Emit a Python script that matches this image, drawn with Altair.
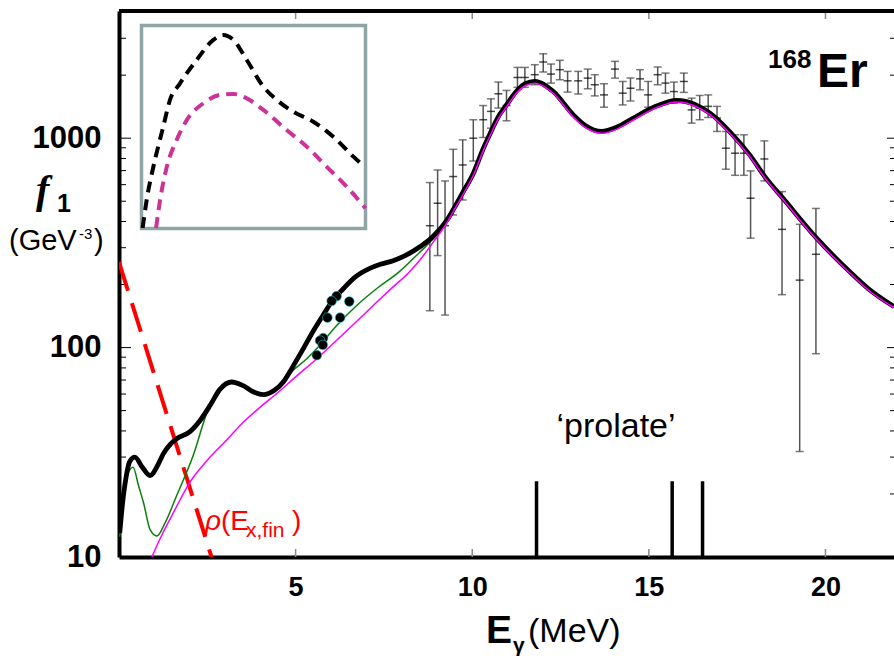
import altair as alt
import pandas as pd

# ---------------- data ----------------
# total strength (thick black)
black_E = [0.02,0.1,0.2,0.3,0.45,0.65,0.88,1.1,1.25,1.45,1.63,2.01,2.3,2.58,2.85,3.19,3.5,3.8,4.08,4.4,4.65,4.9,5.22,5.5,5.78,6.05,6.35,6.7,7.1,7.4,7.76,8.1,
           8.52,8.89,9.3,9.46,9.73,10.03,10.31,10.53,10.74,10.97,11.28,11.5,11.77,12.29,12.86,13.2,13.66,14.1,14.56,15.2,15.79,16.3,16.73,17.3,17.86,18.3,18.8,19.75,20.69,21.2,21.94]
black_f = [13,18,24,28.5,30,27,24.5,27.5,31,34.5,36.7,39.7,45,53,63,68.5,66,61.5,59.6,62.5,68.5,80,99,120,143,168,191,218,239,250,260,275,
           303,339,410,455,550,679,890,1074,1268,1442,1698,1820,1870,1672,1293,1150,1077,1130,1248,1420,1514,1450,1318,1070,830,650,516,333,230,192,157]

# thin green curve
green_E = [0.02,0.12,0.25,0.4,0.55,0.7,0.88,1.07,1.3,1.63,2.1,2.53,2.85,3.19,3.5,3.8,4.08,4.4,4.65,4.9,5.3,5.6,6.17,6.73,7.29,7.93,8.5,8.89,9.3,9.46]
green_f = [12.5,19,25,26.8,22,18,13.5,12.6,14.5,19.6,30.5,51,63,68.5,66,61.5,59.6,62.5,68.5,77,88,99,128,159,191,230,284,330,405,452]

# thin magenta curve
mag_E = [0.93,1.2,1.5,2.01,2.5,3.0,3.52,4.0,4.5,5.0,5.6,6.2,6.8,7.3,7.76,8.2,8.52,8.89,9.3,9.46,9.73,10.03,10.31,10.53,10.74,10.97,11.28,11.5,11.77,
         12.29,12.86,13.2,13.66,14.1,14.56,15.2,15.79,16.3,16.73,17.3,17.86,18.3,18.8,19.75,20.69,21.2,21.94]
mag_f = [10,12.6,15.8,22.8,29,35.5,44,52,61,72.5,88.5,110,137,165,195,228,262,318,398,445,535,665,870,1050,1240,1410,1660,1780,1830,
         1640,1265,1125,1055,1105,1222,1395,1490,1425,1295,1050,815,640,508,328,227,189,155]

# red dashed level-density line
red_E = [0.0, 2.62]
red_f = [256, 10]

# experimental points with error bars
exp_E  = [8.80,9.02,9.23,9.46,9.73,10.03,10.31,10.53,10.74,10.97,11.28,11.49,11.77,12.01,12.23,12.48,12.70,13.00,13.27,13.47,13.73,
          14.04,14.26,14.48,14.75,14.98,15.25,15.47,15.71,15.99,16.21,16.44,16.68,16.93,17.18,17.44,17.69,17.88,18.27,18.77,19.27,19.73]
exp_f  = [382,489,382,656,745,1000,1225,1343,1630,1432,1950,1950,2010,2312,2024,2124,1879,1879,1936,1800,1610,
          2138,1641,1734,1921,1610,2010,1833,1670,1866,1365,1393,1419,1248,896,848,848,517,796,367,210,279]
exp_lo = [150,275,143,430,507,778,1008,1117,1393,1211,1750,1750,1800,2071,1833,1902,1660,1625,1722,1592,1406,
          1936,1442,1507,1702,1406,1800,1641,1469,1655,1180,1225,1256,1077,711,665,665,333,625,179,31.9,93.5]
exp_hi = [614,705,625,885,982,1225,1432,1542,1854,1691,2178,2178,2244,2530,2260,2355,2085,2085,2138,2010,1820,
          2328,1866,1936,2124,1866,2188,2046,1854,2046,1553,1600,1610,1419,1077,1038,1038,698,971,556,388,462]

# low-energy data dots
dot_E = [6.16,6.02,6.52,5.90,6.26,5.78,5.69,5.77,5.60]
dot_f = [176,167,166,139,139,111,108,103,92]

# 'prolate' stick strengths
stick_E = [11.82, 15.66, 16.52]
stick_f = [23, 23, 23]

# axis ticks
x_ticks = [5, 10, 15, 20]
y_major = [100, 1000]
y_minor = [20,30,40,50,60,70,80,90,200,300,400,500,600,700,800,900,2000,3000,4000]

# inset curves (arbitrary units, no axes in the reference)
ins_black_u = [0.5,2.3,5.3,9.7,12.7,17.2,24.6,32.1,36.5,41.0,47.0,54.4,60.4,67.8,76.7,85.6,94.6,99.5]
ins_black_v = [0.2,14.0,30.4,50.1,63.3,71.5,83.0,92.9,95.3,92.9,83.0,69.9,63.3,57.5,52.6,45.2,35.4,30.4]
ins_mag_u = [6.5,8.3,11.3,15.7,20.2,27.6,35.0,41.0,47.0,54.4,64.8,73.8,82.7,91.6,100.0]
ins_mag_v = [0.2,14.0,30.4,43.6,53.4,61.7,65.8,66.3,64.1,58.4,48.5,40.3,30.4,20.6,10.0]

# ---------------- chart ----------------
W, H = 775, 546
FONT = "Liberation Sans"

xs = alt.Scale(domain=[0, 21.94], nice=False, zero=False)
ys = alt.Scale(type="log", domain=[10, 4050], nice=False)

xax = alt.Axis(values=x_ticks, title=None, grid=False, ticks=False, tickSize=0,
               labelFont=FONT, labelFontWeight="bold", labelFontSize=27, labelColor="black",
               labelPadding=17, labelFlush=False, domainColor="black", domainWidth=4)
yax = alt.Axis(values=[10, 100, 1000], format="d", title=None, grid=False, ticks=False, tickSize=0,
               labelFont=FONT, labelFontWeight="bold", labelFontSize=31, labelColor="black",
               labelPadding=18, labelFlush=False, labelOverlap=False, domainColor="black", domainWidth=4)

X = alt.X("E:Q", scale=xs, axis=xax)
Y = alt.Y("f:Q", scale=ys, axis=yax)

def df(E, f):
    return pd.DataFrame({"E": E, "f": f})

black_df = df(black_E, black_f)
green_df = df(green_E, green_f)
mag_df = df(mag_E, mag_f)
red_df = df(red_E, red_f)
exp_df = pd.DataFrame({"E": exp_E, "f": exp_f, "lo": exp_lo, "hi": exp_hi})
dot_df = df(dot_E, dot_f)
stick_df = pd.DataFrame({"E": stick_E, "f": stick_f, "base": [10] * len(stick_E)})

xt_df = pd.DataFrame({"E": x_ticks})
ymaj_df = pd.DataFrame({"f": y_major})
ymin_df = pd.DataFrame({"f": y_minor})

layers = []
# ticks (inward)
layers.append(alt.Chart(xt_df).mark_rule(color="#8a8a8a", strokeWidth=1.5).encode(x=X, y=alt.value(H), y2=alt.value(H - 8)))
layers.append(alt.Chart(xt_df).mark_rule(color="#8a8a8a", strokeWidth=1.5).encode(x=X, y=alt.value(0), y2=alt.value(8)))
layers.append(alt.Chart(ymaj_df).mark_rule(color="black", strokeWidth=1).encode(y=Y, x=alt.value(0), x2=alt.value(12)))
layers.append(alt.Chart(ymin_df).mark_rule(color="black", strokeWidth=1).encode(y=Y, x=alt.value(0), x2=alt.value(7)))
layers.append(alt.Chart(ymaj_df).mark_rule(color="black", strokeWidth=1).encode(y=Y, x=alt.value(W), x2=alt.value(W - 7)))
layers.append(alt.Chart(ymin_df).mark_rule(color="black", strokeWidth=1).encode(y=Y, x=alt.value(W), x2=alt.value(W - 4)))
# top border
layers.append(alt.Chart(pd.DataFrame({"a": [0]})).mark_rule(color="black", strokeWidth=4).encode(
    x=alt.value(0), x2=alt.value(W), y=alt.value(0)))

# error bars
layers.append(alt.Chart(exp_df).mark_rule(color="#555555", strokeWidth=1.5, clip=True).encode(
    x=X, y=alt.Y("lo:Q", scale=ys, axis=yax), y2="hi:Q"))
layers.append(alt.Chart(exp_df).mark_tick(color="#444444", orient="horizontal", size=8, thickness=1.5, clip=True).encode(
    x=X, y=alt.Y("lo:Q", scale=ys, axis=yax)))
layers.append(alt.Chart(exp_df).mark_tick(color="#444444", orient="horizontal", size=8, thickness=1.5, clip=True).encode(
    x=X, y=alt.Y("hi:Q", scale=ys, axis=yax)))
layers.append(alt.Chart(exp_df).mark_tick(color="black", orient="horizontal", size=8, thickness=1.5, clip=True).encode(
    x=X, y=Y))

# curves
layers.append(alt.Chart(red_df).mark_line(color="#ff0000", strokeWidth=4, strokeDash=[30, 13], clip=True).encode(x=X, y=Y))
layers.append(alt.Chart(green_df).mark_line(color="#0a800a", strokeWidth=1.5, interpolate="monotone", clip=True).encode(x=X, y=Y))
layers.append(alt.Chart(black_df).mark_line(color="black", strokeWidth=4.8, interpolate="monotone", clip=True).encode(x=X, y=Y))
layers.append(alt.Chart(mag_df).mark_line(color="#ff00ff", strokeWidth=1.5, interpolate="monotone", clip=True).encode(x=X, y=Y))

# dots
layers.append(alt.Chart(dot_df).mark_point(filled=True, color="black", stroke="#22d0d0", strokeWidth=0.6,
                                            size=95, opacity=1).encode(x=X, y=Y))
# sticks
layers.append(alt.Chart(stick_df).mark_rule(color="black", strokeWidth=3.5).encode(
    x=X, y=alt.Y("base:Q", scale=ys, axis=yax), y2="f:Q"))

def txt(s, x, y, size, color="black", weight="normal", style="normal", font=FONT, align="left"):
    return alt.Chart(pd.DataFrame({"t": [s]})).mark_text(
        font=font, fontSize=size, fontWeight=weight, fontStyle=style, color=color,
        align=align, baseline="alphabetic").encode(x=alt.value(x), y=alt.value(y), text="t:N")

# annotations
layers += [
    txt("168", 649, 57, 26, weight="bold"),
    txt("Er", 698, 76, 48, weight="bold"),
    txt("\u2018prolate\u2019", 497, 426, 34, align="center"),
    txt("\u03c1", 86, 519, 28, color="#ff0000", style="italic"),
    txt("(E", 102, 519, 28, color="#ff0000"),
    txt("x,fin", 127, 526, 21, color="#ff0000"),
    txt(")", 173, 519, 28, color="#ff0000"),
    # y title
    txt("f", -83, 192, 40, weight="bold", style="italic", font="Liberation Serif"),
    txt("1", -62, 201, 25, weight="bold"),
    txt("(GeV", -110, 239, 29),
    txt("-3", -40, 228, 15),
    txt(")", -25, 239, 29),
    # x title
    txt("E", 367, 632, 39, weight="bold"),
    txt("\u03b3", 394, 641, 21, weight="bold"),
    txt("(MeV)", 409, 631, 34),
]

main = alt.layer(*layers)

# inset
ixs = alt.Scale(domain=[0, 100], range=[22.5, 246.5], nice=False, zero=False)
iys = alt.Scale(domain=[0, 100], range=[217.5, 14.5], nice=False, zero=False)
IX = alt.X("u:Q", scale=ixs, axis=None)
IY = alt.Y("v:Q", scale=iys, axis=None)

box = alt.Chart(pd.DataFrame({"a": [0]})).mark_rect(fill="white", stroke="#8fa5a5", strokeWidth=3.5).encode(
    x=alt.value(22.5), x2=alt.value(246.5), y=alt.value(14.5), y2=alt.value(217.5))
ins_b = alt.Chart(pd.DataFrame({"u": ins_black_u, "v": ins_black_v})).mark_line(
    color="black", strokeWidth=4, strokeDash=[11, 7], interpolate="monotone").encode(x=IX, y=IY)
ins_m = alt.Chart(pd.DataFrame({"u": ins_mag_u, "v": ins_mag_v})).mark_line(
    color="#cc3399", strokeWidth=4, strokeDash=[11, 7], interpolate="monotone").encode(x=IX, y=IY)
inset = alt.layer(box, ins_b, ins_m)

chart = alt.layer(main, inset).resolve_scale(x="independent", y="independent").properties(
    width=W, height=H,
    padding={"left": 119, "top": 11, "right": 0, "bottom": 102},
    autosize=alt.AutoSizeParams(type="none"),
    background="white",
).configure_view(strokeWidth=0)

chart.save("out.html", embed_options={"renderer": "svg", "actions": False})
